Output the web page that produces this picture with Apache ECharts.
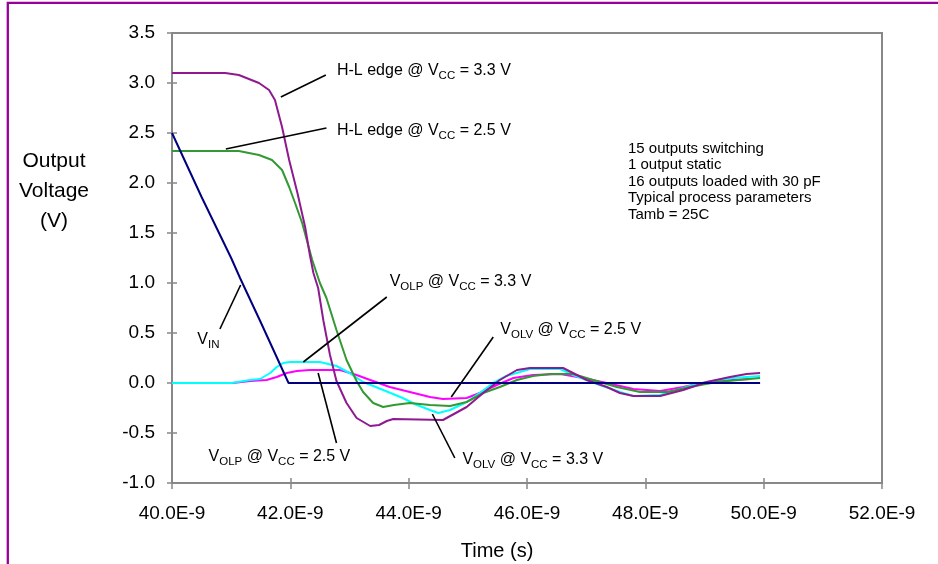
<!DOCTYPE html>
<html>
<head>
<meta charset="utf-8">
<script src="https://cdn.jsdelivr.net/npm/echarts@6/dist/echarts.min.js"></script>
<style>
  html, body { margin: 0; padding: 0; background: #fff; }
  #chart { width: 938px; height: 564px; }
</style>
</head>
<body>
<div id="chart"></div>
<script>
// Time values are in ns; tick labels are written as E-9 seconds.
const xTicks = { min: 40, max: 52, step: 2 };
const yTicks = { min: -1.0, max: 3.5, step: 0.5 };

// Input ramp
const vinTime = [40.00, 40.50, 41.00, 41.15, 41.49, 41.97, 49.94];
const vinVolt = [2.50, 1.86, 1.25, 1.05, 0.62, 0.00, 0.00];

// Switching output, H-L edge at Vcc = 3.3 V
const hl33Time = [40.00, 40.90, 41.13, 41.47, 41.64, 41.74, 41.86, 41.98, 42.12, 42.25, 42.33,
  42.39, 42.47, 42.56, 42.67, 42.78, 42.95, 43.12, 43.35, 43.50, 43.63, 43.74, 44.58, 44.98,
  45.26, 45.54, 45.83, 46.05, 46.61, 47.01, 47.35, 47.57, 47.80, 48.25, 48.64, 49.04, 49.43,
  49.71, 49.94];
const hl33Volt = [3.10, 3.10, 3.08, 3.00, 2.93, 2.83, 2.56, 2.23, 1.90, 1.56, 1.28,
  1.10, 0.95, 0.62, 0.28, 0.02, -0.20, -0.35, -0.43, -0.42, -0.38, -0.36, -0.37, -0.24,
  -0.10, 0.03, 0.13, 0.15, 0.15, 0.03, -0.04, -0.10, -0.13, -0.13, -0.07, 0.01, 0.06,
  0.09, 0.10];

// Switching output, H-L edge at Vcc = 2.5 V
const hl25Time = [40.00, 41.13, 41.47, 41.69, 41.86, 41.98, 42.08, 42.20, 42.37, 42.50,
  42.61, 42.78, 42.95, 43.12, 43.23, 43.40, 43.57, 43.75, 44.02, 44.36, 44.70, 44.98, 45.26,
  45.54, 45.83, 46.10, 46.39, 46.78, 47.23, 47.52, 47.91, 48.37, 48.75, 49.21, 49.94];
const hl25Volt = [2.32, 2.32, 2.28, 2.23, 2.13, 1.96, 1.80, 1.60, 1.23, 1.00,
  0.85, 0.53, 0.23, 0.02, -0.09, -0.20, -0.24, -0.22, -0.20, -0.22, -0.23, -0.19, -0.10,
  -0.04, 0.03, 0.07, 0.09, 0.09, 0.01, -0.04, -0.09, -0.09, -0.04, 0.01, 0.05];

// Static output at Vcc = 3.3 V (VOLP / VOLV)
const st33Time = [40.00, 41.01, 41.32, 41.49, 41.66, 41.77, 41.88, 41.99, 42.50, 42.78,
  43.00, 43.23, 43.57, 43.90, 44.14, 44.36, 44.50, 44.70, 44.98, 45.20, 45.43, 45.65, 45.88,
  46.05, 46.56, 46.78, 47.23, 47.57, 47.80, 48.25, 48.53, 48.81, 49.21, 49.49, 49.94];
const st33Volt = [0.00, 0.00, 0.03, 0.04, 0.10, 0.16, 0.20, 0.21, 0.21, 0.17,
  0.10, 0.01, -0.07, -0.15, -0.22, -0.27, -0.30, -0.27, -0.19, -0.10, 0.00, 0.07, 0.11,
  0.14, 0.14, 0.08, -0.02, -0.09, -0.13, -0.12, -0.07, -0.02, 0.03, 0.05, 0.07];

// Static output at Vcc = 2.5 V (VOLP / VOLV)
const st25Time = [40.00, 41.03, 41.32, 41.60, 41.77, 41.94, 42.11, 42.33, 42.84, 43.12,
  43.35, 43.68, 44.02, 44.36, 44.58, 44.98, 45.20, 45.49, 45.77, 46.10, 46.56, 46.95, 47.35,
  47.80, 48.25, 48.64, 49.04, 49.49, 49.77];
const st25Volt = [0.00, 0.00, 0.02, 0.03, 0.06, 0.10, 0.12, 0.13, 0.13, 0.08,
  0.03, -0.04, -0.09, -0.14, -0.16, -0.15, -0.10, -0.02, 0.05, 0.08, 0.09, 0.05, 0.00,
  -0.06, -0.08, -0.04, 0.01, 0.03, 0.04];

const conditions = [
  '15 outputs switching',
  '1 output static',
  '16 outputs loaded with 30 pF',
  'Typical process parameters',
  'Tamb = 25C'
];

const FONT = '"Liberation Sans", Arial, Helvetica, sans-serif';

// Callout text (rich text: n = normal, s = subscript) anchored in data units,
// with a leader line pointing at the trace.
const callouts = [
  { text: '{n|H-L edge @ V}{s|CC}{n| = 3.3 V}', at: [42.78, 3.12], from: [41.84, 2.86], to: [42.60, 3.08] },
  { text: '{n|H-L edge @ V}{s|CC}{n| = 2.5 V}', at: [42.78, 2.52], from: [40.91, 2.34], to: [42.61, 2.55] },
  { text: '{n|V}{s|IN}', at: [40.42, 0.43], from: [40.81, 0.54], to: [41.16, 0.98] },
  { text: '{n|V}{s|OLP}{n| @ V}{s|CC}{n| = 3.3 V}', at: [43.67, 1.01], from: [42.22, 0.21], to: [43.63, 0.86] },
  { text: '{n|V}{s|OLP}{n| @ V}{s|CC}{n| = 2.5 V}', at: [40.61, -0.74], from: [42.47, 0.10], to: [42.78, -0.60] },
  { text: '{n|V}{s|OLV}{n| @ V}{s|CC}{n| = 2.5 V}', at: [45.54, 0.53], from: [44.72, -0.14], to: [45.43, 0.46] },
  { text: '{n|V}{s|OLV}{n| @ V}{s|CC}{n| = 3.3 V}', at: [44.90, -0.77], from: [44.40, -0.31], to: [44.78, -0.75] }
];

function pairs(t, v) { return t.map((x, i) => [x, v[i]]); }

function trace(name, t, v, color) {
  return {
    name: name,
    type: 'line',
    xAxisIndex: 0,
    yAxisIndex: 0,
    data: pairs(t, v),
    showSymbol: false,
    symbol: 'none',
    smooth: false,
    lineStyle: { color: color, width: 2 },
    z: 3
  };
}

const richText = {
  n: { fontFamily: FONT, fontSize: 16, color: '#000', lineHeight: 20 },
  s: { fontFamily: FONT, fontSize: 11.5, color: '#000', lineHeight: 20, padding: [10, 0, 0, 0] }
};

const axisGrey = '#888888';

// Second x/y axes only carry the inward half of the crossing tick marks.
function tickOnlyAxis(range, position) {
  return {
    type: 'value', min: range.min, max: range.max, interval: range.step, position: position,
    axisLine: { show: false, onZero: false },
    axisTick: { show: true, inside: true, length: 5, lineStyle: { color: axisGrey, width: 1.5 } },
    axisLabel: { show: false },
    splitLine: { show: false }
  };
}

const chart = echarts.init(document.getElementById('chart'), null, { renderer: 'canvas' });

chart.setOption({
  animation: false,
  backgroundColor: '#ffffff',
  grid: {
    left: 172, top: 33, right: 56, bottom: 81,
    show: true, borderColor: axisGrey, borderWidth: 2, backgroundColor: 'transparent'
  },
  xAxis: [
    {
      type: 'value', min: xTicks.min, max: xTicks.max, interval: xTicks.step, position: 'bottom',
      axisLine: { show: true, onZero: false, lineStyle: { color: axisGrey, width: 2 } },
      axisTick: { show: true, length: 6, lineStyle: { color: axisGrey, width: 1.5 } },
      axisLabel: {
        color: '#000', fontFamily: FONT, fontSize: 19, margin: 21,
        formatter: v => v.toFixed(1) + 'E-9'
      },
      splitLine: { show: false }
    },
    tickOnlyAxis(xTicks, 'bottom')
  ],
  yAxis: [
    {
      type: 'value', min: yTicks.min, max: yTicks.max, interval: yTicks.step, position: 'left',
      axisLine: { show: true, onZero: false, lineStyle: { color: axisGrey, width: 2 } },
      axisTick: { show: true, length: 5, lineStyle: { color: axisGrey, width: 1.5 } },
      axisLabel: {
        color: '#000', fontFamily: FONT, fontSize: 19, margin: 17,
        formatter: v => v.toFixed(1)
      },
      splitLine: { show: false }
    },
    tickOnlyAxis(yTicks, 'left')
  ],
  series: [
    trace('VOLP/VOLV @ VCC = 2.5 V', st25Time, st25Volt, '#ff00ff'),
    trace('VOLP/VOLV @ VCC = 3.3 V', st33Time, st33Volt, '#00ffff'),
    trace('H-L edge @ VCC = 2.5 V', hl25Time, hl25Volt, '#339933'),
    trace('H-L edge @ VCC = 3.3 V', hl33Time, hl33Volt, '#8f1a8f'),
    Object.assign(trace('VIN', vinTime, vinVolt, '#000080'), {
      markLine: {
        silent: true,
        symbol: ['none', 'none'],
        label: { show: false },
        lineStyle: { color: '#000', width: 1.6, type: 'solid' },
        emphasis: { disabled: true },
        data: callouts.map(c => [{ coord: c.from }, { coord: c.to }])
      },
      markPoint: {
        silent: true,
        symbol: 'circle',
        symbolSize: 1,
        itemStyle: { color: 'rgba(0,0,0,0)' },
        label: {
          show: true, position: 'right', distance: 0,
          color: '#000', rich: richText
        },
        data: callouts.map(c => ({ coord: c.at, label: { formatter: c.text } }))
      }
    })
  ],
  graphic: [
    {
      type: 'rect', silent: true, z: 100,
      shape: { x: 7.8, y: 2.8, width: 1000, height: 1000 },
      style: { fill: 'none', stroke: '#990099', lineWidth: 2.3 }
    },
    {
      type: 'text', silent: true,
      style: {
        x: 54, y: 146, text: 'Output\nVoltage\n(V)', fill: '#000',
        font: '21px ' + FONT, align: 'center', verticalAlign: 'top', lineHeight: 30
      }
    },
    {
      type: 'text', silent: true,
      style: {
        x: 497, y: 551, text: 'Time (s)', fill: '#000',
        font: '20px ' + FONT, align: 'center', verticalAlign: 'middle'
      }
    },
    {
      type: 'text', silent: true,
      style: {
        x: 628, y: 140.5, text: conditions.join('\n'), fill: '#000',
        font: '15px ' + FONT, align: 'left', verticalAlign: 'top', lineHeight: 16.5
      }
    }
  ]
});
</script>
</body>
</html>
